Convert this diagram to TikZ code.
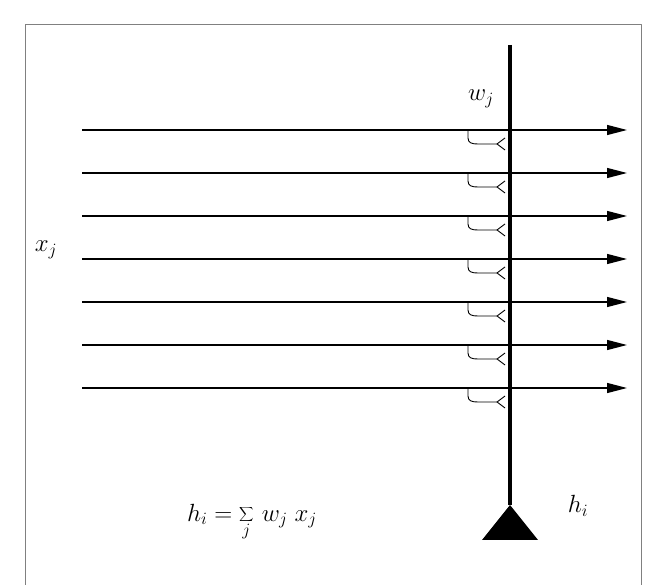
\documentclass[tikz,border=0pt]{standalone}
\usetikzlibrary{arrows.meta}
\begin{document}
\begin{tikzpicture}[line cap=butt,line join=round,>={Triangle[length=20pt,width=10pt]},x=1pt,y=-1pt,
  input/.style={line width=1.3pt,->},
  synapse/.style={line width=0.9pt},
  lbl/.style={font=\fontsize{25}{30}\selectfont}]
\useasboundingbox (0,0) rectangle (665,585);
\draw [line width=1pt,gray] (25,590)-- (25,25)-- (641,25)-- (641,590);
% axon of unit h_i
\coordinate (top) at (510,45);
\coordinate (soma) at (510,505);
\draw [line width=4.5pt] (top)-- (soma);
\fill (soma)-- (482,540)-- (538,540)-- cycle;
% input lines with synapses
\foreach \k in {0,...,6}
{
  \pgfmathsetmacro{\yy}{130+43*\k}
  \coordinate (in\k) at (82,\yy);
  \coordinate (out\k) at (627,\yy);
  \draw [input] (in\k)-- (out\k);
  \draw [synapse] (468,\yy)-- (468,\yy+8) .. controls (468,\yy+13) and (472,\yy+14) .. (478,\yy+14)-- (497,\yy+14);
  \draw [synapse] (505,\yy+8)-- (497,\yy+14)-- (505,\yy+20);
}
\node [lbl] (xj) at (46,250) {$x_j$};
\node [lbl] (wj) at (481,99) {$w_j$};
\node [lbl] (hi) at (578,506) {$h_i$};
\node [lbl] (eq) at (252,522) {$h_i = \displaystyle\sum_j\, w_j\; x_j$};
\end{tikzpicture}
\end{document}
